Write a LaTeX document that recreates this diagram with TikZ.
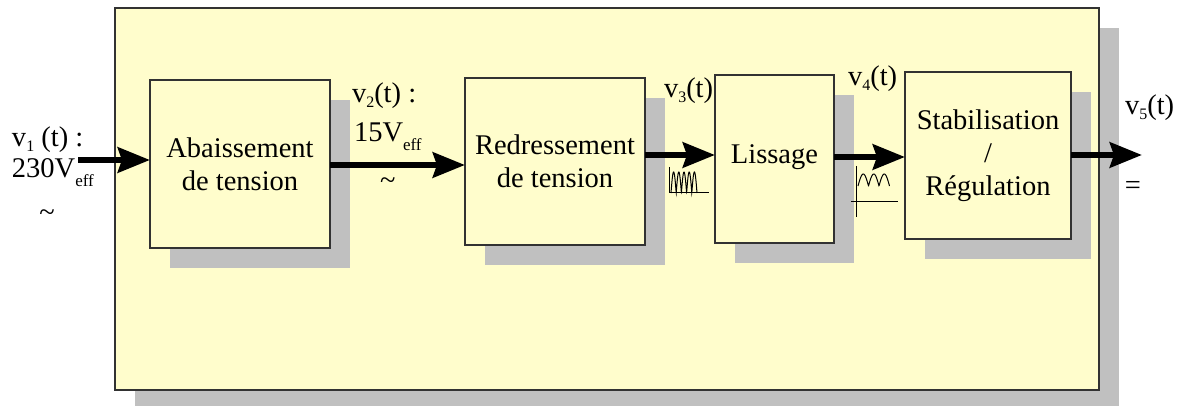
\documentclass[tikz,border=0pt]{standalone}
\usepackage{fontspec}
\setmainfont{Liberation Serif}
\usetikzlibrary{arrows.meta,shadows}
\definecolor{paleyellow}{RGB}{255,253,204}
\definecolor{shadowgray}{RGB}{192,192,192}
\definecolor{edgegray}{RGB}{50,50,50}
\newcommand\lowsub[3]{\raisebox{#1}{\fontsize{#2}{#2}\selectfont #3}}
\begin{document}
\begin{tikzpicture}[x=1pt,y=-1pt,
  every node/.style={font=\fontsize{28.5}{33}\selectfont, inner sep=0pt, outer sep=0pt},
  blockbox/.style={draw=edgegray, line width=1.5pt, fill=paleyellow, align=center,
    drop shadow={shadow xshift=20pt, shadow yshift=-20pt, fill=shadowgray, opacity=1}},
  flow/.style={line width=6.5pt, -{Stealth[length=32pt,width=25pt,inset=4pt]}},
  lbl/.style={anchor=base west},
  wave/.style={line width=1pt, black}
]
\useasboundingbox (0,0) rectangle (1183,406);

% outer frame
\node[blockbox, line width=2pt, minimum width=984pt, minimum height=382pt] (frame) at (607,199) {};

% blocks
\node[blockbox, minimum width=180pt, minimum height=168pt] (b1) at (240,164) {Abaissement\\de tension};
\node[blockbox, minimum width=180pt, minimum height=167pt] (b2) at (555,161.5) {Redressement\\de tension};
\node[blockbox, minimum width=119pt, minimum height=168pt] (b3) at (774.5,159) {\raisebox{10pt}{Lissage}};
\node[blockbox, minimum width=166pt, minimum height=167pt] (b4) at (988,155.5) {\raisebox{10pt}{\begin{tabular}{@{}c@{}}Stabilisation\\/\\Régulation\end{tabular}}};

% connectors
\coordinate (in) at (78,160);
\coordinate (out) at (1142,155);
\draw[flow] (in) -- ([yshift=4pt]b1.west);
\draw[flow] ([yshift=-1pt]b1.east) -- ([yshift=-3.5pt]b2.west);
\draw[flow] ([yshift=6.5pt]b2.east) -- ([yshift=4pt]b3.west);
\draw[flow] ([yshift=2pt]b3.east) -- ([yshift=-1.5pt]b4.west);
\draw[flow] ([yshift=0.5pt]b4.east) -- (out);

% labels
\node[lbl] (l1) at (12,147) {v\lowsub{-5pt}{16}{1} (t) :};
\node[lbl] (l1b) at (12,178) {230V\lowsub{-9pt}{17}{eff}};
\node (l1c) at (47,216) {\textasciitilde};
\node[lbl] (l2) at (352,103) {v\lowsub{-5pt}{16}{2}(t) :};
\node[lbl] (l2c) at (380,190) {\textasciitilde};
\node[lbl] (l2b) at (354,142) {15V\lowsub{-9pt}{17}{eff}};
\node[lbl] (l3) at (664,98) {v\lowsub{-5pt}{16}{3}(t)};
\node[lbl] (l4) at (848,86) {v\lowsub{-5pt}{16}{4}(t)};
\node[lbl] (l5) at (1125,115) {v\lowsub{-5pt}{16}{5}(t)};
\node (l5b) at (1133,188) {=};

% waveform v3
\draw[wave] (669,167) -- (669,193) -- (709,193);
\draw[wave] plot[domain=0:900, samples=150] ({671+\x/180*5.2},{193-21*abs(sin(\x))});

% waveform v4
\draw[wave] (856,166) -- (856,217);
\draw[wave] (851,202) -- (898,202);
\draw[wave] plot[domain=0:540, samples=120] ({858+\x/180*10.5},{186-12*abs(sin(\x))});
\end{tikzpicture}
\end{document}
